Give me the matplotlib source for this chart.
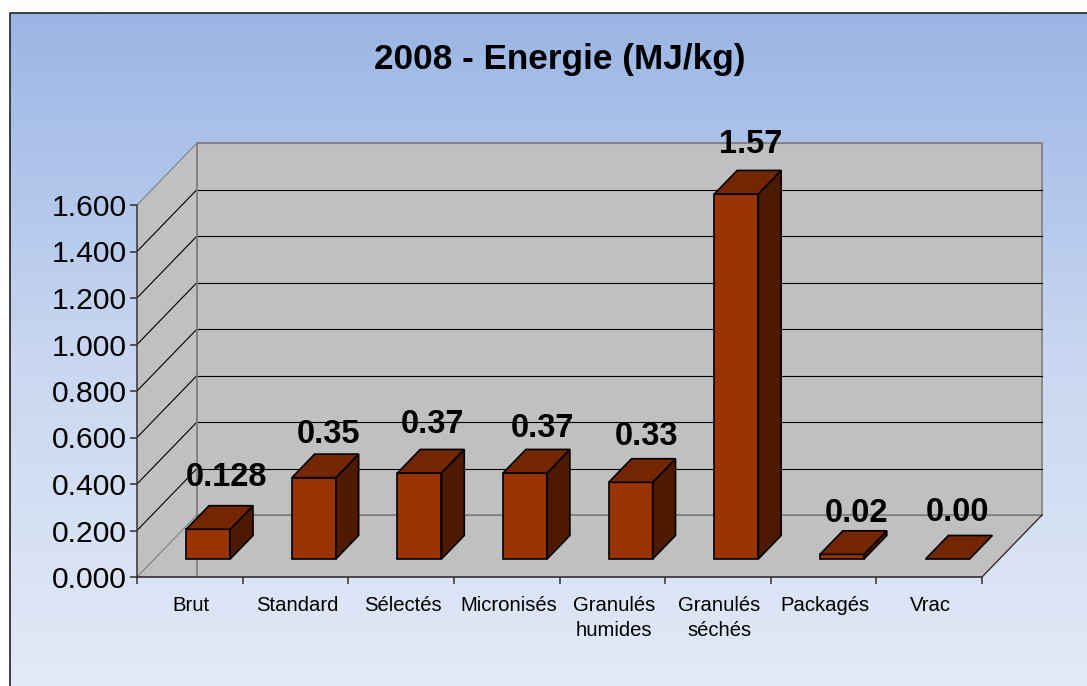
import numpy as np
import matplotlib
matplotlib.use("Agg")
import matplotlib.pyplot as plt
from matplotlib.colors import LinearSegmentedColormap

plt.rcParams["font.family"] = ["Liberation Sans", "DejaVu Sans"]

categories = ["Brut", "Standard", "Sélectés", "Micronisés", "Granulés\nhumides",
              "Granulés\nséchés", "Packagés", "Vrac"]
values = [0.128, 0.35, 0.37, 0.37, 0.33, 1.57, 0.02, 0.00]
value_labels = ["0.128", "0.35", "0.37", "0.37", "0.33", "1.57", "0.02", "0.00"]
y_ticks = [0.0, 0.2, 0.4, 0.6, 0.8, 1.0, 1.2, 1.4, 1.6]

W, H = 1087, 686
LEFT, RIGHT, BOTTOM, TOP = 137, 982, 577, 205

# pixels per unit, and how far the back wall sits from the front plane
PX_X = (RIGHT - LEFT) / len(categories)
PX_Y = (BOTTOM - TOP) / 1.6
DX = 60 / PX_X
DY = 62 / PX_Y
BAR_W = 44 / PX_X
BAR_SHIFT = 1 / PX_X
BAR_FRONT, BAR_BACK = 0.29, 0.67

# label nudges in pixels from the top front of each bar
label_dx = [18, 15, 13, 17, 16, 14, 15, 10]
label_dy = [52, 43, 48, 44, 46, 49, 41, 47]

fig = plt.figure(figsize=(W / 100, H / 100), dpi=100, facecolor="white")

bg = fig.add_axes([0, 0, 1, 1])
bg.set_xlim(0, W)
bg.set_ylim(H, 0)
bg.axis("off")
cmap = LinearSegmentedColormap.from_list("bg", ["#9AB5E5", "#C8D6F0", "#E3EAF7"])
bg.imshow(np.linspace(0, 1, 256)[:, None], cmap=cmap, aspect="auto",
          extent=[10, W, H, 13], zorder=0)
bg.set_xlim(0, W)
bg.set_ylim(H, 0)
bg.plot([10, 10, W], [H, 13, 13], color="#222222", lw=1.2, zorder=1)

ax = fig.add_axes([LEFT / W, 1 - BOTTOM / H, (RIGHT - LEFT) / W, (BOTTOM - TOP) / H])
ax.set_xlim(0, len(categories))
ax.set_ylim(0, 1.6)
ax.patch.set_visible(False)
for s in ax.spines.values():
    s.set_visible(False)


def proj(x, y, d):
    return x + d * DX, y + d * DY


def face(pts, color, edge, lw=1.2, z=2):
    xs, ys = zip(*pts)
    ax.fill(xs, ys, facecolor=color, edgecolor=edge, lw=lw, clip_on=False, zorder=z,
            joinstyle="miter")


n = len(categories)
gray = "#C0C0C0"
face([proj(0, 0, 1), proj(n, 0, 1), proj(n, 1.6, 1), proj(0, 1.6, 1)], gray, "#808080")
face([proj(0, 0, 0), proj(0, 0, 1), proj(0, 1.6, 1), proj(0, 1.6, 0)], gray, "none", 0)
face([proj(0, 0, 0), proj(n, 0, 0), proj(n, 0, 1), proj(0, 0, 1)], gray, "none", 0)

# gridlines, back wall then left wall
for t in y_ticks:
    bx, by = proj(0, t, 1)
    ex, ey = proj(n, t, 1)
    c = "#808080" if t in (0.0, 1.6) else "#000000"
    ax.plot([bx, ex], [by, ey], color=c, lw=0.8, clip_on=False, zorder=3)
    ax.plot([0, bx], [t, by], color=c, lw=0.8, clip_on=False, zorder=3)

ax.plot([DX, DX], [0, 1.6 + DY], color="#808080", lw=1.3, clip_on=False, zorder=3)
ax.plot([0, 0], [0, 1.6], color="#404040", lw=1.2, clip_on=False, zorder=4)
ax.plot([0, n], [0, 0], color="#303030", lw=1.2, clip_on=False, zorder=4)
ax.plot([n, n + DX], [0, DY], color="#303030", lw=1.0, clip_on=False, zorder=4)

for i, v in enumerate(values):
    x0 = i + 0.5 + BAR_SHIFT - BAR_W / 2
    x1 = i + 0.5 + BAR_SHIFT + BAR_W / 2
    z = 5 + i * 0.01
    fl, fr = proj(x0, 0, BAR_FRONT), proj(x1, 0, BAR_FRONT)
    tl, tr = proj(x0, v, BAR_FRONT), proj(x1, v, BAR_FRONT)
    bl, br = proj(x0, v, BAR_BACK), proj(x1, v, BAR_BACK)
    lr = proj(x1, 0, BAR_BACK)
    if v > 0:
        face([fl, fr, tr, tl], "#993300", "black", 1.2, z)
        face([fr, lr, br, tr], "#4D1A00", "black", 1.2, z)
    face([tl, tr, br, bl], "#732600", "black", 1.2, z)
    ax.annotate(value_labels[i], xy=tl, xytext=(BAR_W / 2 * PX_X * 0.72 + label_dx[i] * 0.72,
                                               label_dy[i] * 0.72),
                textcoords="offset points", ha="center", va="center", fontsize=23.5,
                fontweight="bold", color="black", zorder=8, annotation_clip=False)

ax.set_yticks(y_ticks)
ax.set_yticklabels([f"{t:.3f}" for t in y_ticks], fontsize=21.7, color="black")
ax.set_xticks(np.arange(n + 1))
ax.set_xticklabels([])
ax.tick_params(axis="both", length=5, width=1.1, color="#303030", pad=2.5)
for i, c in enumerate(categories):
    ax.text(i + 0.5 + 0.015, -0.08, c, ha="center", va="top", fontsize=14.6, color="black",
            linespacing=1.45, clip_on=False)

bg.text(560, 60, "2008 - Energie (MJ/kg)", ha="center", va="center", fontsize=25.3,
        fontweight="bold", color="black")

fig.savefig("out.png", dpi=100, facecolor="white")
